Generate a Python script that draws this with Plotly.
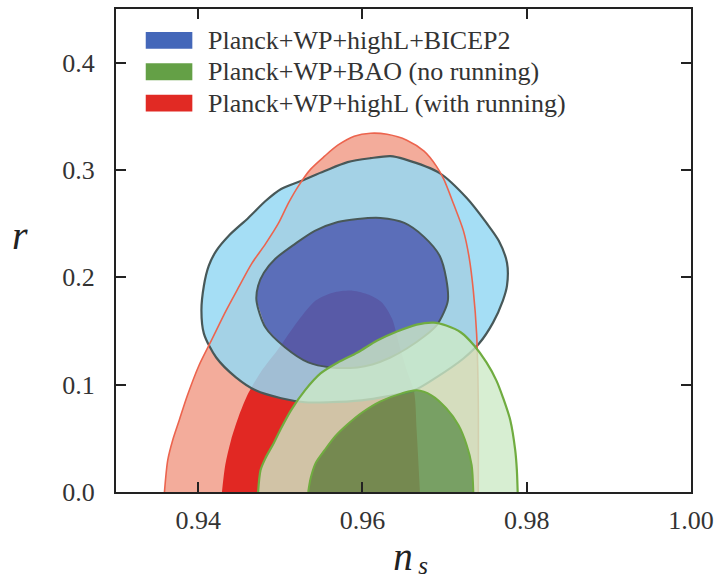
import plotly.graph_objects as go

# Marginalised (n_s, r) confidence regions, each stored as boundary vertices.
# Outer = 95% region, inner = 68% region.
series_labels = [
    "Planck+WP+highL+BICEP2",
    "Planck+WP+BAO (no running)",
    "Planck+WP+highL (with running)",
]

bicep_95_ns = [0.9404, 0.9407, 0.9413, 0.9422, 0.9437, 0.9461, 0.9482, 0.9501, 0.9525, 0.9554,
               0.9582, 0.9610, 0.9634, 0.9651, 0.9694, 0.9727, 0.9751, 0.9766, 0.9776, 0.9776,
               0.9771, 0.9759, 0.9742, 0.9723, 0.9690, 0.9663, 0.9630, 0.9599, 0.9558, 0.9530,
               0.9501, 0.9470, 0.9446, 0.9422, 0.9407]
bicep_95_r = [0.1690, 0.1922, 0.2108, 0.2247, 0.2386, 0.2553, 0.2711, 0.2823, 0.2897, 0.2990,
              0.3073, 0.3110, 0.3129, 0.3101, 0.2971, 0.2739, 0.2507, 0.2340, 0.2136, 0.1922,
              0.1783, 0.1578, 0.1383, 0.1244, 0.1068, 0.0947, 0.0891, 0.0854, 0.0836, 0.0836,
              0.0873, 0.0947, 0.1068, 0.1253, 0.1476]

bicep_68_ns = [0.9471, 0.9473, 0.9480, 0.9494, 0.9518, 0.9542, 0.9570, 0.9594, 0.9622, 0.9651,
               0.9675, 0.9694, 0.9702, 0.9704, 0.9699, 0.9690, 0.9675, 0.9654, 0.9634, 0.9612,
               0.9594, 0.9561, 0.9534, 0.9506, 0.9482]
bicep_68_r = [0.1783, 0.1922, 0.2043, 0.2173, 0.2312, 0.2433, 0.2516, 0.2544, 0.2553, 0.2507,
              0.2377, 0.2201, 0.1987, 0.1783, 0.1671, 0.1551, 0.1448, 0.1337, 0.1253, 0.1188,
              0.1161, 0.1161, 0.1207, 0.1346, 0.1532]

running_95_ns = [0.9359, 0.9363, 0.9369, 0.9377, 0.9387, 0.9401, 0.9416, 0.9434, 0.9449, 0.9465,
                 0.9482, 0.9498, 0.9510, 0.9522, 0.9537, 0.9554, 0.9570, 0.9590, 0.9610, 0.9630,
                 0.9654, 0.9675, 0.9690, 0.9699, 0.9711, 0.9723, 0.9730, 0.9735, 0.9739, 0.9741,
                 0.9741]
running_95_r = [0.0, 0.0297, 0.0483, 0.0669, 0.0901, 0.1179, 0.1411, 0.1690, 0.1903, 0.2126,
                0.2312, 0.2507, 0.2693, 0.2850, 0.3008, 0.3129, 0.3231, 0.3315, 0.3343, 0.3333,
                0.3278, 0.3175, 0.3036, 0.2915, 0.2683, 0.2433, 0.2182, 0.1876, 0.1476, 0.0854,
                0.0]

running_68_ns = [0.9429, 0.9433, 0.9440, 0.9449, 0.9461, 0.9476, 0.9498, 0.9522, 0.9543, 0.9564,
                 0.9588, 0.9608, 0.9624, 0.9636, 0.9645, 0.9654, 0.9663, 0.9666, 0.9670]
running_68_r = [0.0, 0.0251, 0.0483, 0.0696, 0.0919, 0.1114, 0.1337, 0.1597, 0.1783, 0.1857,
                0.1876, 0.1838, 0.1764, 0.1616, 0.1365, 0.1133, 0.0929, 0.0576, 0.0]

bao_95_ns = [0.9473, 0.9476, 0.9482, 0.9492, 0.9501, 0.9513, 0.9530, 0.9549, 0.9570, 0.9594,
             0.9618, 0.9642, 0.9666, 0.9687, 0.9702, 0.9720, 0.9736, 0.9751, 0.9763, 0.9771,
             0.9780, 0.9786, 0.9788, 0.9789]
bao_95_r = [0.0, 0.0204, 0.0316, 0.0455, 0.0594, 0.0761, 0.0947, 0.1105, 0.1207, 0.1300,
            0.1411, 0.1495, 0.1560, 0.1578, 0.1551, 0.1486, 0.1365, 0.1207, 0.1040, 0.0882,
            0.0669, 0.0390, 0.0204, 0.0]

bao_68_ns = [0.9534, 0.9537, 0.9543, 0.9554, 0.9567, 0.9582, 0.9600, 0.9622, 0.9648, 0.9666,
             0.9684, 0.9702, 0.9717, 0.9727, 0.9733, 0.9735]
bao_68_r = [0.0, 0.0130, 0.0269, 0.0390, 0.0520, 0.0631, 0.0743, 0.0845, 0.0919, 0.0947,
            0.0901, 0.0780, 0.0622, 0.0436, 0.0251, 0.0]

x_ticks = [0.94, 0.96, 0.98, 1.00]
x_tick_text = ["0.94", "0.96", "0.98", "1.00"]
y_ticks = [0.0, 0.1, 0.2, 0.3, 0.4]
y_tick_text = ["0.0", "0.1", "0.2", "0.3", "0.4"]

SERIF = "Liberation Serif, Times New Roman, serif"
TEXT = "#333333"


def ring(outer_x, outer_y, inner_x, inner_y):
    """Outer boundary plus the reversed inner boundary, so the inner area is left as a hole."""
    return (list(outer_x) + [None] + list(inner_x[::-1]),
            list(outer_y) + [None] + list(inner_y[::-1]))


def region(x, y, fill):
    return go.Scatter(
        x=x, y=y, mode="lines", fill="toself", fillcolor=fill,
        line=dict(color="rgba(0,0,0,0)", width=0, shape="spline", smoothing=0.8),
        hoverinfo="skip", showlegend=False,
    )


def outline(x, y, color, width):
    return go.Scatter(
        x=x, y=y, mode="lines",
        line=dict(color=color, width=width, shape="spline", smoothing=0.8),
        hoverinfo="skip", showlegend=False,
    )


fig = go.Figure()

# Running model (drawn first, underneath)
fig.add_trace(region(running_95_ns, running_95_r, "rgb(243,172,155)"))
fig.add_trace(region(running_68_ns, running_68_r, "rgb(225,40,35)"))

# BICEP2 constraint
bx, by = ring(bicep_95_ns, bicep_95_r, bicep_68_ns, bicep_68_r)
fig.add_trace(region(bx, by, "rgba(149,216,243,0.85)"))
fig.add_trace(region(bicep_68_ns, bicep_68_r, "rgba(63,99,190,0.85)"))
fig.add_trace(outline(bicep_95_ns + bicep_95_ns[:1], bicep_95_r + bicep_95_r[:1], "rgb(72,88,88)", 2.2))
fig.add_trace(outline(bicep_68_ns + bicep_68_ns[:1], bicep_68_r + bicep_68_r[:1], "rgb(72,88,88)", 2.0))

# outline of the running 95% region sits above the blue fill
fig.add_trace(outline(running_95_ns, running_95_r, "rgb(236,100,78)", 1.6))

# BAO, no running
gx, gy = ring(bao_95_ns, bao_95_r, bao_68_ns, bao_68_r)
fig.add_trace(region(gx, gy, "rgba(205,234,199,0.8)"))
fig.add_trace(region(bao_68_ns, bao_68_r, "rgba(95,158,89,0.83)"))
fig.add_trace(outline(bao_95_ns, bao_95_r, "rgb(112,172,64)", 2.2))
fig.add_trace(outline(bao_68_ns, bao_68_r, "rgb(112,172,64)", 2.0))

# Legend: colour patches with labels
L, R, T, B = 116, 696, 7, 492
W, H = R - L, B - T


def px_x(p):
    return (p - L) / W


def px_y(p):
    return (B - p) / H


patch_colors = ["rgb(68,103,185)", "rgb(100,160,70)", "rgb(225,42,36)"]
row_centres = [38.5, 70.0, 101.5]
shapes = []
annotations = []
for label, color, yc in zip(series_labels, patch_colors, row_centres):
    shapes.append(dict(type="rect", xref="paper", yref="paper",
                       x0=px_x(146), x1=px_x(193), y0=px_y(yc + 8.5), y1=px_y(yc - 8.5),
                       fillcolor=color, line=dict(width=0), layer="above"))
    annotations.append(dict(xref="paper", yref="paper", x=px_x(207), y=px_y(yc),
                            xanchor="left", yanchor="middle", showarrow=False, text=label,
                            font=dict(family=SERIF, size=26, color=TEXT)))

# Axis symbols (boxes widened so the italic overhang is not clipped)
sym_font = dict(family=SERIF, color="#222222")
annotations.append(dict(xref="paper", yref="paper", x=px_x(19), y=px_y(234),
                        xanchor="center", yanchor="middle", showarrow=False, width=34,
                        text="<i>r</i>", font=dict(size=40, **sym_font)))
annotations.append(dict(xref="paper", yref="paper", x=px_x(405), y=px_y(557),
                        xanchor="center", yanchor="middle", showarrow=False, width=36,
                        text="<i>n</i>", font=dict(size=39, **sym_font)))
annotations.append(dict(xref="paper", yref="paper", x=px_x(426), y=px_y(565.5),
                        xanchor="center", yanchor="middle", showarrow=False, width=22,
                        text="<i>s</i>", font=dict(size=25, **sym_font)))

axis_common = dict(
    showgrid=False, zeroline=False, showline=True, linecolor="#222222", linewidth=2,
    mirror="allticks", ticks="inside", ticklen=10, tickwidth=1.5, tickcolor="#222222",
    tickfont=dict(family=SERIF, size=26, color=TEXT),
)

fig.update_layout(
    width=721, height=581,
    margin=dict(l=L, r=721 - R, t=T, b=581 - B),
    paper_bgcolor="white", plot_bgcolor="white",
    showlegend=False,
    xaxis=dict(range=[0.93, 1.00], tickvals=x_ticks, ticktext=x_tick_text,
               ticklabelstandoff=4, **axis_common),
    yaxis=dict(range=[0.0, 0.45], tickvals=y_ticks, ticktext=y_tick_text,
               ticklabelstandoff=14, **axis_common),
    shapes=shapes,
    annotations=annotations,
)

fig.write_html("out.html")
